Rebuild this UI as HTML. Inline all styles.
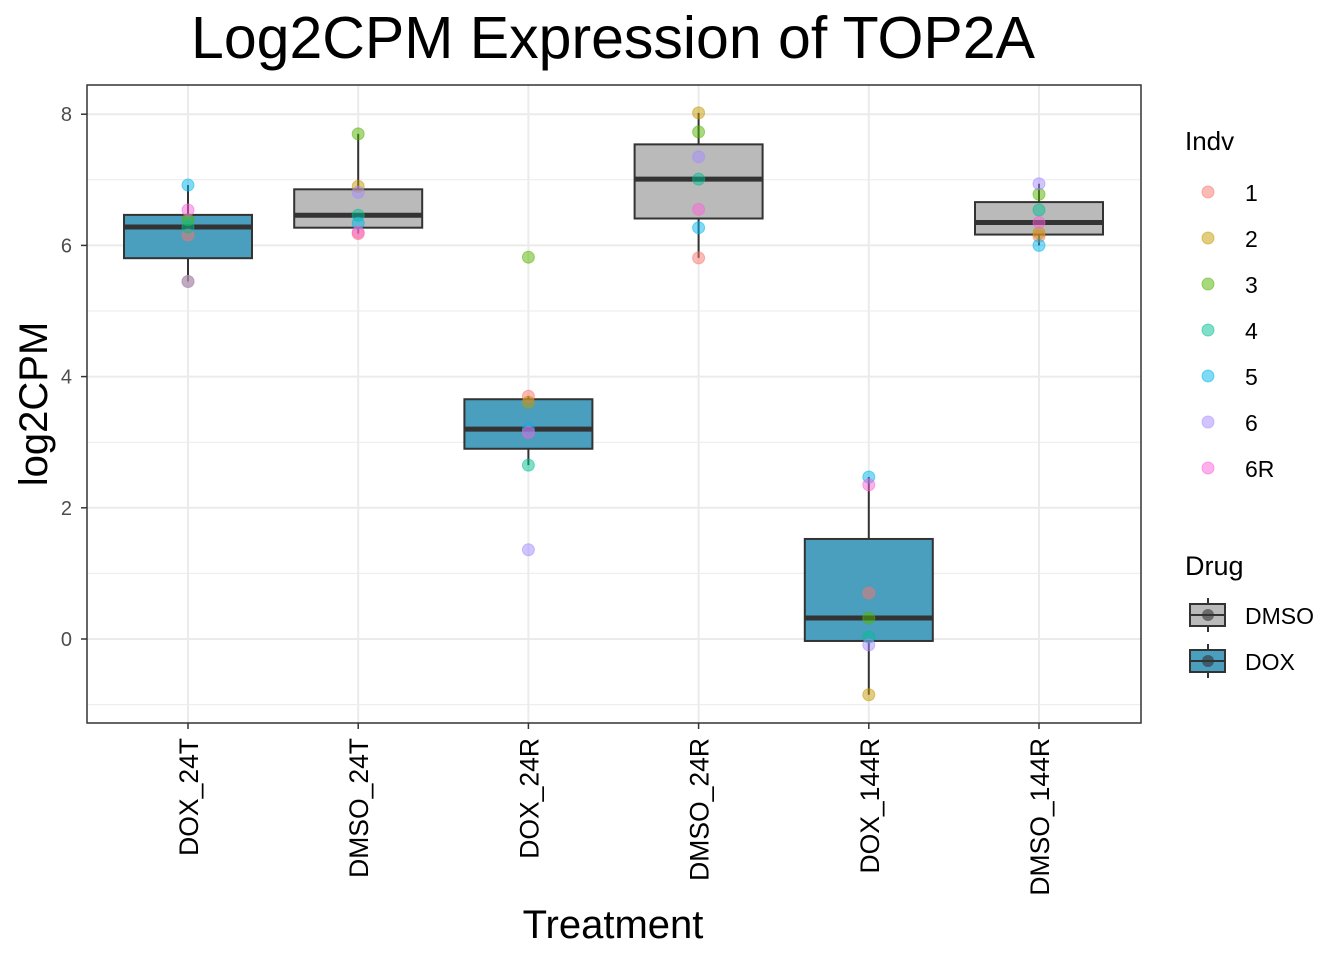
<!DOCTYPE html>
<html><head><meta charset="utf-8"><style>
body{margin:0;background:#fff;font-family:"Liberation Sans",Arial,sans-serif}
svg text{font-family:"Liberation Sans",Arial,sans-serif}
</style></head><body>
<svg id="chart" width="1344" height="960" xmlns="http://www.w3.org/2000/svg">
<text x="613" y="58" font-size="59" text-anchor="middle">Log2CPM Expression of TOP2A</text>
<g id="grid"></g><g id="boxes"></g><g id="pts"></g><g id="axes"></g><g id="legend"></g>
</svg>
<script>
const categories=["DOX_24T","DMSO_24T","DOX_24R","DMSO_24R","DOX_144R","DMSO_144R"];
const drugs=["DOX","DMSO","DOX","DMSO","DOX","DMSO"];
const indvs=["1","2","3","4","5","6","6R"];
// values per category, in indv order
const vDOX24T=[6.16,5.45,6.39,6.28,6.92,5.45,6.54];
const vDMSO24T=[6.18,6.90,7.70,6.46,6.34,6.81,6.20];
const vDOX24R=[3.70,3.61,5.82,2.65,3.20,1.36,3.15];
const vDMSO24R=[5.81,8.02,7.73,7.01,6.27,7.35,6.55];
const vDOX144R=[0.70,-0.85,0.32,0.03,2.47,-0.09,2.35];
const vDMSO144R=[6.14,6.19,6.78,6.54,6.00,6.94,6.35];
const values=[vDOX24T,vDMSO24T,vDOX24R,vDMSO24R,vDOX144R,vDMSO144R];
const yTicks=[0,2,4,6,8];
const colors=["#F8766D","#C49A00","#53B400","#00C094","#00B6EB","#A58AFF","#FB61D7"];
const fills={DMSO:"#BABABA",DOX:"#4A9EBE"};
const NS="http://www.w3.org/2000/svg";
const L=87,R=1141,T=85,B=723;
const y=v=>639-v*65.6;
const x=i=>188+i*170.2;
function mk(p,tag,a){const e=document.createElementNS(NS,tag);for(const k in a)e.setAttribute(k,a[k]);p.appendChild(e);return e;}
function q(arr,p){const s=[...arr].sort((a,b)=>a-b);const h=(s.length-1)*p,lo=Math.floor(h);return s[lo]+(s[Math.min(lo+1,s.length-1)]-s[lo])*(h-lo);}
const G=document.getElementById('grid');
const gb=mk(G,'rect',{x:L,y:T,width:R-L,height:B-T,fill:'#fff'});


for(let v=-1;v<=9;v++){const yy=y(v);if(yy<T||yy>B)continue;mk(G,'line',{x1:L,x2:R,y1:yy,y2:yy,stroke:'#ebebeb','stroke-width':v%2?1:2});}
categories.forEach((c,i)=>mk(G,'line',{x1:x(i),x2:x(i),y1:T,y2:B,stroke:'#ebebeb','stroke-width':2}));
const BX=document.getElementById('boxes');
categories.forEach((c,i)=>{
 const d=values[i];const q1=q(d,.25),md=q(d,.5),q3=q(d,.75),iq=q3-q1;
 const lo=Math.min(...d.filter(v=>v>=q1-1.5*iq)),hi=Math.max(...d.filter(v=>v<=q3+1.5*iq));
 const g=mk(BX,'g',{});
 
 
 mk(g,'line',{x1:x(i),x2:x(i),y1:y(hi),y2:y(lo),stroke:'#333','stroke-width':2});
 mk(g,'rect',{x:x(i)-64,y:y(q3),width:128,height:y(q1)-y(q3),fill:fills[drugs[i]],stroke:'#333','stroke-width':2});
 mk(g,'line',{x1:x(i)-64,x2:x(i)+64,y1:y(md),y2:y(md),stroke:'#333','stroke-width':5});
});
const P=document.getElementById('pts');
categories.forEach((c,i)=>values[i].forEach((v,j)=>{
 const e=mk(P,'circle',{cx:x(i),cy:y(v),r:6,fill:colors[j],'fill-opacity':0.5,stroke:colors[j],'stroke-opacity':0.5});
 
 
}));
const A=document.getElementById('axes');
mk(A,'rect',{x:L,y:T,width:R-L,height:B-T,fill:'none',stroke:'#333','stroke-width':1.5});
yTicks.forEach(t=>{mk(A,'line',{x1:L-6,x2:L,y1:y(t),y2:y(t),stroke:'#333','stroke-width':1.5});
 const e=mk(A,'text',{x:L-15,y:y(t)+7,'font-size':20,fill:'#4d4d4d','text-anchor':'end'});e.textContent=t;
 
 });
categories.forEach((c,i)=>{mk(A,'line',{x1:x(i),x2:x(i),y1:B,y2:B+6,stroke:'#333','stroke-width':1.5});
 const e=mk(A,'text',{x:0,y:0,'font-size':26.5,fill:'#000','text-anchor':'end',transform:`translate(${x(i)+10},${B+15}) rotate(-90)`});e.textContent=c;
 
 });
let e=mk(A,'text',{x:613,y:938,'font-size':40,'text-anchor':'middle'});e.textContent='Treatment';


e=mk(A,'text',{x:0,y:0,'font-size':40,'text-anchor':'middle',transform:'translate(47,404) rotate(-90)'});e.textContent='log2CPM';


const LG=document.getElementById('legend');
e=mk(LG,'text',{x:1185,y:150,'font-size':26});e.textContent='Indv';


indvs.forEach((n,j)=>{const yy=192+j*46;const g=mk(LG,'g',{});
 
 
 mk(g,'circle',{cx:1208,cy:yy,r:6,fill:colors[j],'fill-opacity':0.5,stroke:colors[j],'stroke-opacity':0.5});
 const t=mk(g,'text',{x:1245,y:yy+9,'font-size':23});t.textContent=n;});
e=mk(LG,'text',{x:1185,y:575,'font-size':27});e.textContent='Drug';


["DMSO","DOX"].forEach((n,j)=>{const yy=615+j*46;const g=mk(LG,'g',{});
 
 
 mk(g,'line',{x1:1208,x2:1208,y1:yy-17,y2:yy+17,stroke:'#333','stroke-width':2});
 mk(g,'rect',{x:1190,y:yy-11,width:35,height:22,fill:fills[n],stroke:'#333','stroke-width':2});
 mk(g,'line',{x1:1190,x2:1225,y1:yy,y2:yy,stroke:'#333','stroke-width':2});
 mk(g,'circle',{cx:1208,cy:yy,r:6,fill:'#333','fill-opacity':0.6});
 const t=mk(g,'text',{x:1245,y:yy+9,'font-size':23});t.textContent=n;});
</script>
</body></html>
